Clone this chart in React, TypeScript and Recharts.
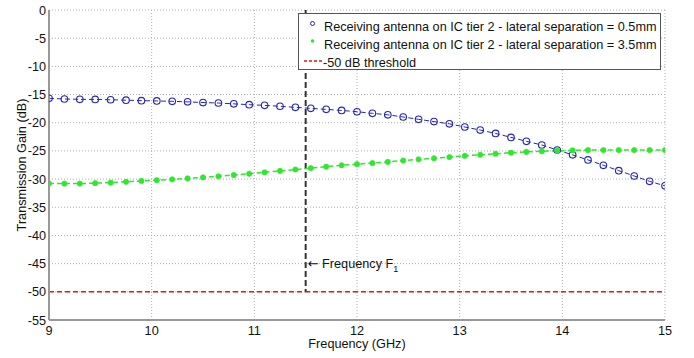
import React from 'react';
import { LineChart, Line, XAxis, YAxis, CartesianGrid, ReferenceLine, ReferenceDot, Legend, Label } from 'recharts';

const FREQ = [9.0, 9.15, 9.3, 9.45, 9.6, 9.75, 9.9, 10.05, 10.2, 10.35, 10.5, 10.65, 10.8, 10.95, 11.1, 11.25, 11.4, 11.55, 11.7, 11.85, 12.0, 12.15, 12.3, 12.45, 12.6, 12.75, 12.9, 13.05, 13.2, 13.35, 13.5, 13.65, 13.8, 13.95, 14.1, 14.25, 14.4, 14.55, 14.7, 14.85, 15.0];
const SEP_05 = [-15.67, -15.79, -15.85, -15.87, -15.92, -16.0, -16.08, -16.14, -16.2, -16.3, -16.42, -16.5, -16.65, -16.8, -16.92, -17.08, -17.27, -17.45, -17.63, -17.82, -18.05, -18.33, -18.6, -18.98, -19.4, -19.8, -20.2, -20.76, -21.3, -21.9, -22.6, -23.3, -23.95, -24.84, -25.7, -26.6, -27.55, -28.5, -29.45, -30.4, -31.2];
const SEP_35 = [-30.76, -30.8, -30.8, -30.72, -30.62, -30.48, -30.33, -30.2, -30.05, -29.88, -29.7, -29.5, -29.28, -29.05, -28.8, -28.55, -28.3, -28.05, -27.8, -27.55, -27.35, -27.15, -26.95, -26.72, -26.5, -26.3, -26.1, -25.88, -25.68, -25.5, -25.32, -25.18, -25.06, -24.96, -24.9, -24.86, -24.85, -24.85, -24.85, -24.85, -24.85];
const X_TICKS = [9, 10, 11, 12, 13, 14, 15];
const Y_TICKS = [0, -5, -10, -15, -20, -25, -30, -35, -40, -45, -50, -55];
const THRESHOLD = -50;
const F1 = 11.5;
const F1_LABEL_Y = -45;
const LEGEND_LABELS = [
  'Receiving antenna on IC tier 2 - lateral separation = 0.5mm',
  'Receiving antenna on IC tier 2 - lateral separation = 3.5mm',
  '-50 dB threshold',
];

const data = FREQ.map((f, i) => ({ f, a: SEP_05[i], b: SEP_35[i] }));

const FONT = '"Liberation Sans", Arial, sans-serif';
const FS = 12.7;
const BLUE = '#2525b8';
const GREEN = '#2ee82e';
const RED = '#d81c1c';

const BlueDot = (p: any) => (
  <circle key={`b${p.index}`} cx={p.cx} cy={p.cy} r={3.3} fill="none" stroke={BLUE} strokeWidth={1.1} />
);
const GreenDot = (p: any) => (
  <circle key={`g${p.index}`} cx={p.cx} cy={p.cy} r={2.6} fill={GREEN} stroke={GREEN} strokeWidth={0.8} />
);

const LegendBox = () => (
  <div
    style={{
      boxSizing: 'border-box',
      width: 363,
      height: 57,
      border: '1px solid #555',
      background: '#fff',
      fontFamily: FONT,
      fontSize: FS,
      color: '#111',
      position: 'relative',
    }}
  >
    <svg width={361} height={55} style={{ position: 'absolute', left: 0, top: 0 }}>
      <circle cx={13.5} cy={9.5} r={2} fill="none" stroke={BLUE} strokeWidth={1} />
      <circle cx={13.5} cy={27} r={1.8} fill={GREEN} />
      <line x1={5} y1={47} x2={23} y2={47} stroke={RED} strokeWidth={1.5} strokeDasharray="3 2" />
      <text x={25} y={17} fontFamily={FONT} fontSize={FS} fill="#111">{LEGEND_LABELS[0]}</text>
      <text x={25} y={35} fontFamily={FONT} fontSize={FS} fill="#111">{LEGEND_LABELS[1]}</text>
      <text x={24} y={53} fontFamily={FONT} fontSize={FS} fill="#111">{LEGEND_LABELS[2]}</text>
    </svg>
  </div>
);

const F1Label = (props: any) => {
  const vb = props.viewBox || {};
  const x = (vb.x ?? 0) + (vb.width ?? 0) / 2;
  const y = (vb.y ?? 0) + (vb.height ?? 0) / 2;
  return (
    <text x={x + 2} y={y + 4} fontFamily={FONT} fontSize={FS} fill="#111">
      <tspan fontFamily='"DejaVu Sans", sans-serif' fontSize={13}>{'\u2190'}</tspan>
      <tspan>{' Frequency F'}</tspan>
      <tspan fontSize={9} dy={4}>1</tspan>
    </text>
  );
};

export default function App() {
  return (
    <div style={{ position: 'absolute', left: 0, top: 0, width: 694, height: 358, background: '#fff' }}>
      <LineChart width={694} height={358} data={data} margin={{ top: 10, right: 29, bottom: 0, left: 9 }}>
        <CartesianGrid stroke="#b0b0b0" strokeDasharray="1 2" />
        <XAxis
          dataKey="f"
          type="number"
          domain={[9, 15]}
          ticks={X_TICKS}
          allowDataOverflow
          height={38}
          tickSize={0}
          tickMargin={6}
          axisLine={{ stroke: '#999', strokeWidth: 2 }}
          tick={{ fontFamily: FONT, fontSize: FS, fill: '#111' }}
        >
          <Label value="Frequency (GHz)" position="insideBottom" offset={10} style={{ fontFamily: FONT, fontSize: FS, fill: '#111' }} />
        </XAxis>
        <YAxis
          type="number"
          domain={[-55, 0]}
          ticks={Y_TICKS}
          allowDataOverflow
          width={40}
          tickSize={0}
          tickMargin={3}
          axisLine={{ stroke: '#999', strokeWidth: 2 }}
          tick={{ fontFamily: FONT, fontSize: FS, fill: '#111' }}
        >
          <Label value="Transmission Gain (dB)" position="center" angle={-90} dx={-8} style={{ fontFamily: FONT, fontSize: FS, fill: '#111', textAnchor: 'middle' }} />
        </YAxis>
        <ReferenceLine y={THRESHOLD} stroke={RED} strokeWidth={1.5} strokeDasharray="5 3" />
        <ReferenceLine segment={[{ x: F1, y: 0 }, { x: F1, y: THRESHOLD }]} stroke="#333" strokeWidth={2} strokeDasharray="6 3" />
        <ReferenceDot x={F1} y={F1_LABEL_Y} r={0} fill="none" stroke="none" label={<F1Label />} />
        <Line dataKey="a" stroke={BLUE} strokeWidth={1} strokeDasharray="5 3" dot={BlueDot} isAnimationActive={false} />
        <Line dataKey="b" stroke={GREEN} strokeWidth={1.5} strokeDasharray="5 3" dot={GreenDot} isAnimationActive={false} />
        <Legend
          layout="horizontal"
          verticalAlign="middle"
          align="center"
          content={<LegendBox />}
          wrapperStyle={{ left: 298, top: 13, width: 363, height: 57 }}
        />
      </LineChart>
    </div>
  );
}
